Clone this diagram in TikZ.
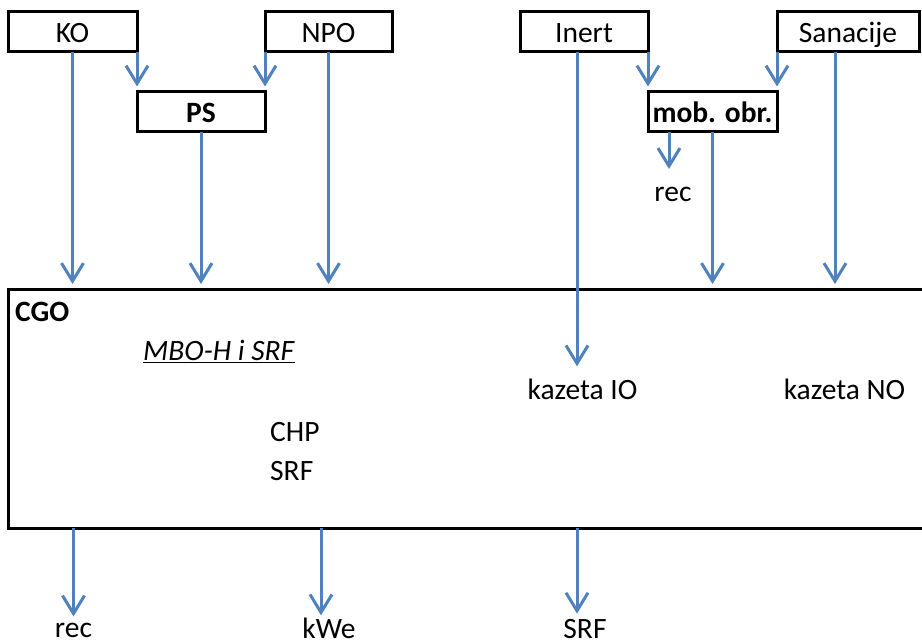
\documentclass[tikz,border=0pt]{standalone}
\usepackage{fontspec}
\setmainfont{Carlito}
\usetikzlibrary{arrows.meta, positioning}
\definecolor{flowblue}{RGB}{79,129,189}
\newcommand{\dgfont}{\fontsize{29.5}{34}\selectfont}

\begin{document}
\begin{tikzpicture}[x=1pt, y=-1pt,
    every node/.style={font=\dgfont, inner sep=2pt},
    box/.style={draw, line width=3pt, minimum height=40pt, text height=22pt, text depth=0pt, inner sep=0pt, outer sep=0pt},
    flow/.style={draw=flowblue, line width=3pt, -{Straight Barb[length=18pt, width=22pt]}, shorten >=6pt}]
    \useasboundingbox (0,0) rectangle (922,644);

    % Izvori (gornji red)
    \node[box, minimum width=129pt] (KO) at (72.5,32) {KO};
    \node[box, minimum width=127pt] (NPO) at (328.5,32) {NPO};
    \node[box, minimum width=128pt] (Inert) at (584,32) {Inert};
    \node[box, minimum width=142pt] (San) at (848,32) {Sanacije};

    % Predobrada
    \node[box, minimum width=128pt, font=\dgfont\bfseries] (PS) at (201,112) {PS};
    \node[box, minimum width=129pt, font=\dgfont\bfseries] (mob) at (712.5,112) {mob. obr.};
    \node[anchor=base] (rec1) at (673,202) {rec};

    % CGO
    \node[draw, line width=3pt, inner sep=0pt, outer sep=0pt, minimum width=927pt, minimum height=238pt] (CGO) at (471.5,409) {};
    \node[anchor=base west, inner sep=0pt, font=\dgfont\bfseries] (cgoname) at (15,322) {CGO};
    \node[anchor=base west, inner sep=0pt] (mbo) at (143,361) {\underline{\textit{MBO-H i SRF}}};
    \node[anchor=base west, inner sep=0pt] (chp) at (270,442) {CHP};
    \node[anchor=base west, inner sep=0pt] (srf1) at (270,481) {SRF};
    \node[anchor=base] (IO) at (582.5,400) {kazeta IO};
    \node[anchor=base] (NO) at (844.5,400) {kazeta NO};

    % Izlazi
    \node[anchor=base] (rec2) at (73.5,637) {rec};
    \node[anchor=base] (kWe) at (329,638) {kWe};
    \node[anchor=base] (srf2) at (585,638) {SRF};

    % Tokovi prema predobradi
    \draw[flow, shorten >=5.5pt] (KO.south east) -- (PS.north west);
    \draw[flow, shorten >=5.5pt] (NPO.south west) -- (NPO.south west |- PS.north);
    \draw[flow, shorten >=5.5pt] (Inert.south east) -- (mob.north west);
    \draw[flow, shorten >=5.5pt] (San.south west) -- (San.south west |- mob.north);
    \draw[flow, shorten >=16.5pt] ([xshift=-4pt]rec1.north |- mob.south) -- ([xshift=-4pt]rec1.north);

    % Tokovi prema CGO
    \draw[flow] (KO.south) -- (KO.south |- CGO.north);
    \draw[flow] (PS.south) -- (PS.south |- CGO.north);
    \draw[flow] (NPO.south) -- (NPO.south |- CGO.north);
    \draw[flow] (mob.south) -- (mob.south |- CGO.north);
    \draw[flow] ([xshift=-13pt]San.south) -- ([xshift=-13pt]San.south |- CGO.north);
    \draw[flow, shorten >=11pt] ([xshift=-5.5pt]IO.north |- Inert.south) -- ([xshift=-5.5pt]IO.north);

    % Tokovi iz CGO
    \draw[flow, shorten >=4pt] (CGO.south -| rec2.north) -- (rec2.north);
    \draw[flow, shorten >=0pt] ([xshift=-8pt]kWe.north |- CGO.south) -- ([xshift=-8pt]kWe.north);
    \draw[flow, shorten >=3pt] ([xshift=-8pt]srf2.north |- CGO.south) -- ([xshift=-8pt]srf2.north);

\end{tikzpicture}
\end{document}
